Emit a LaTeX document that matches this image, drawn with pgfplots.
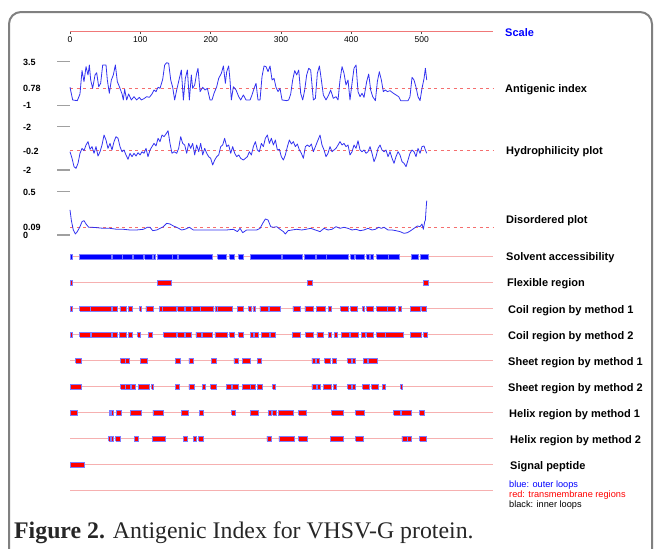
\documentclass[border=0pt]{standalone}
\usepackage{pgfplots}
\pgfplotsset{compat=1.18}
\usepackage{fontspec}
\setmainfont{Liberation Serif}
\newfontfamily\arial{Liberation Sans}
\definecolor{curveblue}{RGB}{50,50,240}
\definecolor{threshred}{RGB}{245,110,110}
\definecolor{rowpink}{RGB}{246,176,176}
\definecolor{scalered}{RGB}{240,120,120}
\definecolor{barred}{RGB}{255,0,0}
\definecolor{barborder}{RGB}{125,125,255}
\definecolor{solvblue}{RGB}{0,0,255}
\definecolor{tickgray}{RGB}{160,160,160}
\definecolor{framegray}{RGB}{128,128,128}
\newcommand\barrow[3]{%
  \pgfmathsetmacro\ylo{#1-0.095}%
  \pgfmathsetmacro\yhi{#1+0.095}%
  \gdef\barcoords{}%
  \foreach \a/\b in {#3}{\xdef\barcoords{\barcoords(\a,\ylo)(\b,\ylo)(\b,\yhi)(\a,\yhi)(\a,\ylo)(nan,nan)}}%
  \edef\next{\noexpand\addplot[#2] coordinates {\barcoords};}\next}
\pgfplotsset{
  curveax/.style={scale only axis, width=423.4pt, anchor=south west, xmin=0, xmax=602,
    hide axis, clip=false},
  curve/.style={draw=curveblue, line width=0.8pt, line join=round},
  thresh/.style={draw=threshred, line width=0.9pt, dash pattern=on 3pt off 3.5pt},
  rowline/.style={draw=rowpink, line width=1.4pt},
  redbar/.style={fill=barred, draw=barborder, line width=0.7pt, unbounded coords=jump},
  bluebar/.style={fill=solvblue, draw=barborder, line width=0.7pt, unbounded coords=jump},
}
\begin{document}
\begin{tikzpicture}[x=1pt,y=1pt]
\useasboundingbox (0,0) rectangle (654,-549);
\draw[framegray, line width=2pt, rounded corners=12pt] (9,-620) -- (9,-12) -- (652,-12) -- (652,-620);

% scale
\begin{axis}[scale only axis, width=423.4pt, height=10pt, at={(70pt,-31.7pt)}, anchor=south west,
  xmin=0, xmax=602, ymin=0, ymax=1, axis y line=none, axis x line*=bottom,
  x axis line style={draw=scalered, line width=1.2pt, -},
  xtick={0,100,200,300,400,500}, xticklabels={0,100,200,300,400,500},
  tick align=outside, major tick length=2.5pt, xtick style={draw=black!70, line width=0.6pt},
  xticklabel style={font=\arial\fontsize{8.5}{9}\selectfont, inner sep=2pt}]
\end{axis}

% range markers beside the curve tracks
\begin{scope}[tickgray, line width=1.3pt]
\draw (57,-61.7) -- (70,-61.7);
\draw (57,-105.3) -- (70,-105.3);
\draw (57,-126.7) -- (70,-126.7);
\draw (57,-170) -- (70,-170);
\draw (57,-191.7) -- (70,-191.7);
\draw (57,-235) -- (70,-235);
\end{scope}

% antigenic index
\begin{axis}[curveax, at={(70pt,-105.3pt)}, height=43.6pt, ymin=-1, ymax=3.5]
\addplot[thresh] coordinates {(0,0.78)(602,0.78)};
\addplot[curve] coordinates {(0,0.86)(3.8,-0.45)(10.4,-0.52)(14.2,0.17)(17.1,2.58)(19.9,1.44)(22.8,2.99)(25.6,2.13)(27.5,3.16)(29.4,1.61)(32.2,0.75)(35.6,2.13)(37.9,2.37)(40.8,0.92)(43.6,1.27)(46.5,3.16)(51.2,3.16)(53.1,1.61)(55.9,0.24)(58.8,1.61)(61.6,2.13)(64.5,3.16)(67.3,1.44)(70.2,0.92)(74.0,0.17)(75.8,-0.45)(77.7,0.65)(80.6,-0.45)(83.4,0.17)(87.2,-0.45)(91.0,-0.11)(94.8,-0.45)(98.6,-0.18)(101.4,-0.45)(105.2,-0.31)(109.0,-0.11)(112.8,-0.18)(116.6,0.17)(119.5,0.58)(122.3,0.41)(125.2,0.86)(128.0,0.75)(131.8,1.68)(134.6,3.16)(137.5,3.40)(140.3,3.33)(143.2,1.61)(146.0,0.86)(148.8,-0.45)(151.7,0.58)(155.5,1.78)(158.3,2.64)(161.2,-0.45)(164.0,1.78)(166.9,2.64)(169.7,-0.45)(172.5,2.13)(174.4,0.75)(177.3,1.10)(180.1,2.30)(182.0,2.82)(184.9,0.41)(188.7,0.86)(192.0,0.58)(195.3,0.75)(199.1,-0.45)(201.9,-0.45)(204.8,0.24)(208.6,0.92)(211.4,1.78)(215.2,2.30)(218.1,3.06)(220.9,1.27)(222.8,2.47)(225.6,3.06)(227.5,1.61)(229.4,-0.45)(232.3,0.92)(236.1,0.58)(239.9,-0.11)(242.7,-0.45)(246.5,0.07)(250.3,-0.45)(256.0,-0.45)(258.8,0.07)(261.7,0.75)(264.5,1.27)(267.3,-0.45)(270.2,-0.45)(273.0,1.96)(275.9,3.06)(278.7,2.99)(281.6,2.47)(284.4,3.06)(287.3,1.61)(290.1,1.78)(292.9,0.86)(295.8,0.41)(298.6,0.75)(301.5,-0.45)(308.1,-0.52)(311.0,-0.45)(313.8,0.17)(316.6,1.61)(319.5,2.58)(322.3,2.13)(325.2,2.64)(328.0,0.24)(330.9,-0.45)(333.7,0.58)(336.5,2.13)(339.4,2.82)(342.2,2.64)(346.0,-0.45)(348.9,-0.28)(351.7,2.30)(354.6,3.06)(357.4,1.61)(360.2,0.07)(364.0,-0.45)(367.8,0.07)(370.6,0.58)(374.4,-0.28)(378.2,-0.11)(381.1,-0.45)(383.9,1.61)(386.8,2.99)(389.6,2.30)(392.4,1.10)(395.3,1.61)(398.1,-0.45)(401.0,1.27)(403.8,2.82)(406.7,3.16)(409.5,0.41)(412.4,-0.11)(415.2,0.24)(418.0,-0.18)(421.8,1.44)(424.7,2.23)(427.5,0.58)(430.4,-0.11)(434.2,-0.52)(437.0,1.44)(439.8,2.47)(442.7,1.61)(445.5,0.41)(448.4,0.58)(451.2,0.41)(455.0,0.51)(459.8,0.24)(463.5,0.07)(467.3,-0.11)(470.2,-0.52)(480.6,-0.52)(483.4,-0.11)(486.3,1.89)(489.1,1.61)(492.0,0.86)(494.8,-0.11)(497.7,-0.52)(500.5,0.75)(503.4,1.78)(505.3,2.82)(507.2,1.61)};
\end{axis}

% hydrophilicity
\begin{axis}[curveax, at={(70pt,-170pt)}, height=43.3pt, ymin=-2, ymax=2]
\addplot[thresh] coordinates {(0,-0.2)(602,-0.2)};
\addplot[curve] coordinates {(0,-0.31)(2.9,-0.92)(5.7,-1.69)(8.5,-1.85)(11.4,-1.38)(14.2,-0.46)(17.1,0.0)(19.9,-0.21)(22.8,0.31)(25.6,0.62)(28.5,-0.09)(31.3,0.16)(34.2,-0.46)(37.0,0.16)(39.8,-0.71)(42.7,-0.31)(45.5,0.31)(48.4,1.23)(51.2,0.77)(54.0,0.0)(56.9,0.46)(59.7,-0.15)(62.6,0.62)(65.4,1.08)(68.3,0.93)(71.1,0.16)(73.9,-0.31)(76.8,-0.15)(79.6,-0.61)(82.5,-1.01)(85.3,-0.46)(88.2,-0.77)(91.0,-0.46)(93.9,-0.71)(96.7,-0.40)(99.6,-0.61)(102.4,-0.31)(105.2,-0.46)(108.1,0.0)(110.9,-0.77)(113.8,-0.15)(116.6,0.16)(119.5,0.46)(122.3,0.22)(125.2,0.93)(128.0,0.62)(130.8,1.23)(133.7,1.08)(136.5,1.33)(139.4,1.63)(142.2,0.46)(145.0,-0.46)(147.9,-0.31)(151.7,-0.46)(154.5,0.0)(157.4,1.08)(160.2,0.46)(163.1,0.31)(165.9,-0.46)(168.8,0.46)(171.6,0.0)(174.4,0.46)(177.3,-0.61)(180.1,0.31)(183.0,-0.31)(185.8,0.46)(188.7,-0.61)(191.5,0.0)(194.4,-0.46)(197.2,-0.77)(200.0,-0.92)(202.9,-1.54)(205.7,-1.08)(208.6,-0.77)(211.4,-0.61)(214.3,0.16)(217.1,0.31)(219.9,0.93)(222.8,0.16)(225.6,0.31)(228.5,-0.46)(231.3,0.16)(234.2,-0.46)(237.0,-0.77)(239.9,-0.61)(242.7,-0.92)(246.5,-1.08)(249.4,-0.92)(252.2,-0.77)(255.0,-0.31)(257.9,-0.61)(260.7,0.16)(263.6,0.62)(266.4,-0.15)(269.2,-0.31)(272.1,0.46)(274.9,0.16)(277.8,0.93)(280.6,1.23)(283.5,0.46)(286.3,0.93)(289.2,0.31)(292.0,0.77)(294.8,-0.15)(297.7,-0.09)(300.5,-0.77)(303.4,-1.08)(306.2,-0.61)(309.1,0.16)(311.9,0.77)(314.8,0.40)(317.6,0.62)(320.4,0.16)(323.3,0.40)(326.1,-0.15)(329.0,-0.46)(331.8,-0.92)(334.7,0.16)(337.5,0.31)(340.4,0.16)(343.2,0.40)(346.0,-0.31)(348.9,0.16)(351.7,0.62)(355.5,1.23)(358.3,0.31)(361.2,-0.15)(364.0,-0.77)(366.8,-0.46)(369.7,0.16)(372.5,-0.31)(375.4,-0.15)(378.2,0.0)(381.1,0.31)(383.9,0.62)(386.8,0.31)(389.6,0.46)(392.4,0.16)(395.3,0.31)(398.1,-0.61)(401.0,-0.31)(403.8,0.31)(406.7,0.0)(409.5,0.71)(412.4,-0.15)(415.2,-0.31)(418.0,-0.15)(420.9,-0.46)(423.7,-0.31)(426.6,0.16)(429.4,-0.46)(432.3,-1.23)(435.1,-0.77)(438.0,0.0)(440.8,0.31)(443.6,-0.15)(446.5,-0.31)(449.3,-0.15)(452.2,-0.77)(455.0,-0.31)(457.9,-0.92)(460.7,-1.38)(463.5,-0.77)(466.4,-0.31)(469.2,-0.61)(472.1,-1.23)(474.9,-1.38)(477.8,-1.69)(480.6,-1.08)(483.4,-0.46)(486.3,-0.15)(489.1,-0.31)(492.0,-0.77)(494.8,0.0)(497.7,-0.46)(500.5,0.16)(503.4,0.22)(505.3,-0.15)(507.2,-0.46)};
\end{axis}

% disordered
\begin{axis}[curveax, at={(70pt,-235pt)}, height=43.3pt, ymin=0, ymax=0.5]
\addplot[thresh] coordinates {(0,0.09)(602,0.09)};
\addplot[curve] coordinates {(0,0.29)(1.9,0.17)(4.7,0.058)(7.6,0.012)(10.4,0.039)(14.2,0.096)(17.1,0.154)(19.9,0.166)(22.8,0.127)(26.6,0.089)(31.3,0.089)(37.9,0.085)(47.4,0.077)(56.9,0.077)(66.4,0.066)(75.8,0.066)(85.3,0.058)(94.8,0.058)(104.3,0.066)(110.0,0.089)(113.8,0.089)(117.6,0.050)(123.3,0.058)(128.0,0.077)(132.7,0.096)(137.5,0.135)(142.2,0.127)(147.0,0.104)(151.7,0.089)(158.8,0.058)(163.5,0.066)(169.7,0.089)(175.4,0.058)(184.9,0.058)(194.4,0.058)(203.8,0.058)(213.3,0.058)(222.8,0.058)(232.3,0.066)(238.0,0.039)(241.8,0.077)(245.5,0.027)(251.2,0.058)(258.3,0.058)(265.4,0.058)(270.2,0.077)(274.0,0.135)(277.8,0.185)(281.6,0.173)(285.4,0.096)(289.2,0.089)(293.9,0.096)(298.6,0.066)(303.4,0.039)(306.2,0.012)(310.0,0.050)(315.7,0.058)(322.3,0.066)(329.5,0.058)(335.6,0.066)(342.2,0.077)(348.9,0.058)(355.5,0.039)(361.2,0.077)(366.8,0.058)(372.5,0.066)(378.2,0.096)(383.9,0.077)(389.6,0.089)(395.3,0.077)(401.0,0.058)(406.7,0.066)(412.4,0.050)(418.0,0.058)(423.7,0.077)(429.4,0.058)(434.2,0.066)(438.9,0.089)(442.7,0.077)(446.5,0.089)(452.2,0.058)(457.9,0.058)(463.5,0.050)(469.2,0.039)(474.9,0.019)(479.7,0.027)(484.4,0.050)(489.1,0.077)(493.9,0.104)(497.7,0.096)(500.5,0.127)(502.4,0.066)(504.3,0.154)(505.3,0.173)(506.2,0.289)(507.2,0.397)};
\end{axis}

% region tracks
\begin{axis}[scale only axis, width=423.4pt, height=260pt, at={(70pt,-503.7pt)}, anchor=south west,
  xmin=0, xmax=602, ymin=-9.5, ymax=0.5, hide axis, clip=false]
\addplot[rowline] coordinates {(0,0)(602,0)};
\addplot[rowline] coordinates {(0,-1)(602,-1)};
\addplot[rowline] coordinates {(0,-2)(602,-2)};
\addplot[rowline] coordinates {(0,-3)(602,-3)};
\addplot[rowline] coordinates {(0,-4)(602,-4)};
\addplot[rowline] coordinates {(0,-5)(602,-5)};
\addplot[rowline] coordinates {(0,-6)(602,-6)};
\addplot[rowline] coordinates {(0,-7)(602,-7)};
\addplot[rowline] coordinates {(0,-8)(602,-8)};
\addplot[rowline] coordinates {(0,-9)(602,-9)};
\barrow{0}{bluebar}{0/4,13/59,60/74,75/89,90/105,106/117,118/122,124/145,146/152,154/203,210/223,227/234,240/246,256/300,302/331,333/349,350/364,365/396,399/405,406/418,422/425,427/432,436/452,453/468,485/495,498/509}
\barrow{-1}{redbar}{0/3,124/144,337/344,502/509}
\barrow{-2}{redbar}{0/3,14/29,29/59,60/68,71/80,83/88,99/102,108/119,127/131,132/151,153/162,164/172,174/185,186/204,206/209,210/231,238/247,254/258,260/264,270/282,283/299,317/327,334/346,350/363,367/372,385/396,399/408,416/419,422/432,436/451,451/463,467/471,484/498,500/506}
\barrow{-3}{redbar}{0/4,14/29,30/59,60/67,70/80,83/89,96/100,111/117,133/151,153/163,164/172,179/187,188/203,206/224,227/233,240/247,256/260,262/268,272/283,285/292,316/327,335/346,351/360,367/372,376/380,386/397,398/410,414/420,422/432,436/448,449/474,484/499,503/508}
\barrow{-4}{redbar}{8/16,72/78,79/85,100/110,150/157,169/176,201/208,233/240,245/256,266/272,344/349,350/355,362/370,373/378,395/400,401/406,417/423,424/437}
\barrow{-5}{redbar}{0/16,72/78,79/86,87/93,97/113,116/119,150/156,169/177,188/192,200/208,222/230,231/240,245/256,257/264,266/273,288/292,344/350,351/356,360/371,374/378,395/400,401/406,416/425,429/439,444/449,470/473}
\barrow{-6}{redbar}{0/11,56/58,59/62,66/73,86/101,118/133,158/168,184/189,230/235,256/268,282/286,288/293,296/318,325/336,372/388,406/418,460/470,471/486,497/504}
\barrow{-7}{redbar}{55/58,59/62,65/72,91/97,117/136,161/167,175/180,183/189,280/286,297/319,325/337,370/388,406/417,472/479,480/486,497/506}
\barrow{-8}{redbar}{0/20}
\end{axis}

% left value labels
\begin{scope}[every node/.style={anchor=base west, inner sep=0pt, font=\arial\bfseries\fontsize{9}{9}\selectfont}]
\node at (23,-65.3) {3.5};
\node at (23,-91.3) {0.78};
\node at (23,-108.8) {-1};
\node at (23,-130.3) {-2};
\node at (23,-154.3) {-0.2};
\node at (23,-173.3) {-2};
\node at (23,-195.3) {0.5};
\node at (23,-230.3) {0.09};
\node at (23,-238.8) {0};
\end{scope}

% track labels
\begin{scope}[every node/.style={anchor=base west, inner sep=0pt, font=\arial\bfseries\fontsize{11}{11}\selectfont}]
\node[text=solvblue] at (505,-36) {Scale};
\node at (505,-92) {Antigenic index};
\node at (506,-154) {Hydrophilicity plot};
\node at (506,-223) {Disordered plot};
\node at (506,-260.5) {Solvent accessibility};
\node at (507,-286.5) {Flexible region};
\node at (508,-313) {Coil region by method 1};
\node at (508,-339) {Coil region by method 2};
\node at (508,-365) {Sheet region by method 1};
\node at (508,-391) {Sheet region by method 2};
\node at (509,-417) {Helix region by method 1};
\node at (510,-443) {Helix region by method 2};
\node at (510,-469) {Signal peptide};
\end{scope}

% legend text
\begin{scope}[every node/.style={anchor=base west, inner sep=0pt, font=\arial\fontsize{9.2}{9.2}\selectfont}]
\node[text=solvblue] at (509,-487) {blue: outer loops};
\node[text=barred] at (509,-497) {red: transmembrane regions};
\node[text=black] at (509,-507) {black: inner loops};
\end{scope}

\node[anchor=base west, inner sep=0pt, font=\fontsize{23.8}{26}\selectfont, text=black!85] at (14,-538) {\textbf{Figure 2.} Antigenic Index for VHSV-G protein.};
\end{tikzpicture}
\end{document}
